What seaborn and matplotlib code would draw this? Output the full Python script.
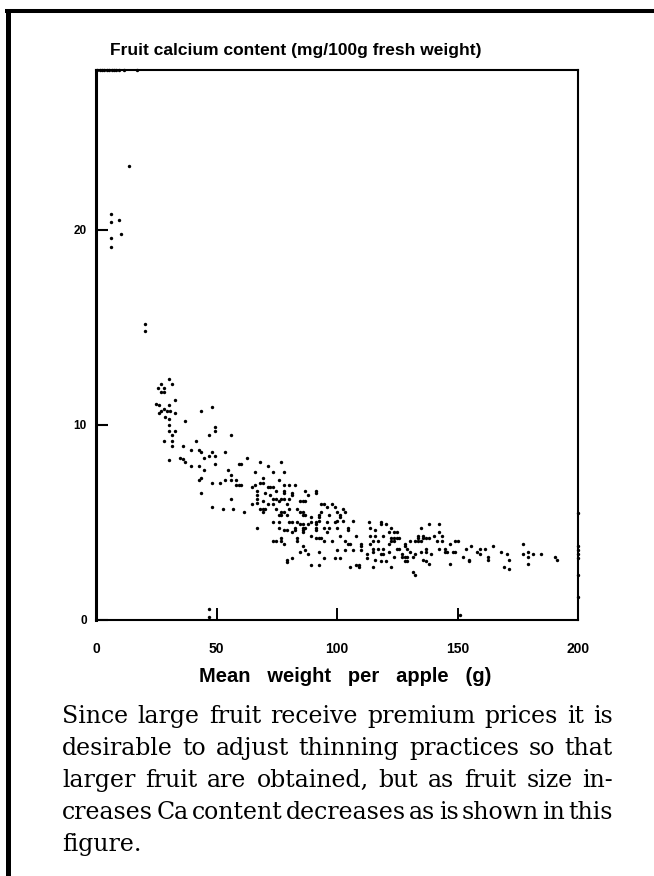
import numpy as np
import pandas as pd
import matplotlib
matplotlib.use("Agg")
import matplotlib.pyplot as plt
from matplotlib.lines import Line2D
import seaborn as sns


# =============================================================================
# DATOS
# =============================================================================
# puntos recortados en el borde superior del eje
top_weight = [0.5, 1.5, 2.5, 3.5, 4.5, 5.5, 6.5, 7.5, 8.5, 9.5, 11.6, 17.1]
top_calcium = [28.2] * len(top_weight)

# frutos pequenos
small_weight = [13.7, 6.1, 9.4, 6.1, 10.4, 6.1, 6.1, 20.5, 20.5]
small_calcium = [23.3, 20.8, 20.5, 20.4, 19.8, 19.6, 19.1, 15.2, 14.8]

# nube principal, 25-62 g
cluster_a_weight = [
    30.4, 26.8, 25.7, 28.2, 31.7, 27.1, 28.2, 32.6, 24.9, 26.3, 30.4, 28.2,
    29.3, 30.7, 26.0, 27.1, 28.5, 32.6, 30.4, 30.4, 37.1, 43.7, 48.1, 49.5,
    49.5, 30.4, 32.6, 31.5, 28.2, 31.5, 41.5, 47.0, 55.9, 31.5, 36.0, 39.3,
    42.6, 43.7, 47.0, 48.1, 49.2, 53.7, 44.8, 30.4, 34.9, 36.0, 62.5,
    37.1, 39.3, 42.6, 44.8, 49.2, 54.8, 59.2, 60.3, 55.9, 43.7, 42.6, 48.1,
    51.5, 53.7, 55.9, 58.1, 58.1, 59.2, 60.3, 43.7, 55.9, 48.1, 52.6, 57.0,
    61.4,
]
cluster_a_calcium = [
    12.35, 12.1, 11.9, 11.9, 12.1, 11.7, 11.7, 11.3, 11.1, 11.0, 11.0, 10.8,
    10.7, 10.7, 10.6, 10.7, 10.4, 10.6, 10.3, 10.0, 10.2, 10.7, 10.9, 9.9,
    9.7, 9.7, 9.7, 9.5, 9.2, 9.2, 9.2, 9.5, 9.5, 8.9, 8.9, 8.7,
    8.7, 8.6, 8.4, 8.6, 8.4, 8.6, 8.3, 8.2, 8.3, 8.25, 8.3,
    8.1, 7.9, 7.9, 7.7, 8.0, 7.7, 8.0, 8.0, 7.45, 7.3, 7.2, 7.0,
    7.0, 7.2, 7.2, 7.2, 6.9, 6.9, 6.9, 6.5, 6.2, 5.8, 5.7, 5.7,
    5.55,
]

# nube principal, 62-114 g
cluster_b_weight = [
    68.0, 76.9, 71.4, 65.9, 73.6, 78.0, 69.1, 75.8, 68.0, 69.1, 78.0, 80.2,
    82.4, 65.9, 64.7, 71.4, 72.4, 73.6, 66.9, 66.9, 66.9, 66.9, 70.2, 74.7,
    78.0, 78.0, 81.3, 81.3, 86.9, 91.3, 91.3, 88.0, 72.4, 73.6, 74.7, 76.9,
    78.0, 80.2, 69.1, 75.8, 84.6, 85.8, 86.9, 64.7, 71.4, 73.6, 79.1, 93.5,
    94.6, 97.9, 68.0, 69.1, 70.2, 74.7, 80.2, 83.5, 95.7, 99.0, 102.3, 69.1,
    76.9, 78.0, 84.6, 85.8, 93.5, 100.1, 103.4, 75.8, 76.9, 79.1, 85.8, 86.9,
    89.1, 92.4, 92.4, 92.4, 96.8, 101.2, 101.2, 102.3, 100.1, 106.8, 73.6, 75.8,
    80.2, 81.3, 83.5, 84.6, 85.8, 89.1, 91.3, 91.3, 91.3, 91.3, 95.7, 99.0,
    66.9, 75.8, 78.0, 79.1, 82.4, 82.4, 85.8, 86.9, 88.0, 94.6, 96.8, 100.1,
    104.6, 104.6, 81.3, 85.8, 85.8, 89.1, 95.7, 101.2, 107.9, 73.6, 74.7, 76.9,
    76.9, 83.5, 83.5, 91.3, 92.4, 93.5, 94.6, 97.9, 103.4, 104.6, 105.6, 78.0,
    85.8, 86.9, 100.1, 103.4, 106.8, 110.1, 110.1, 110.1, 84.6, 88.0, 92.4, 81.3,
    79.1, 79.1, 94.6, 99.0, 101.2, 89.1, 92.4, 105.6, 107.9, 109.0, 109.0, 112.3,
    112.3, 113.4,
]
cluster_b_calcium = [
    8.1, 8.1, 7.9, 7.6, 7.6, 7.6, 7.3, 7.2, 7.0, 7.0, 6.9, 6.9,
    6.9, 6.9, 6.8, 6.8, 6.8, 6.8, 6.6, 6.4, 6.2, 6.0, 6.5, 6.6,
    6.6, 6.5, 6.5, 6.4, 6.6, 6.6, 6.5, 6.4, 6.4, 6.2, 6.2, 6.2,
    6.2, 6.2, 6.1, 6.1, 6.1, 6.1, 6.1, 5.95, 5.95, 5.95, 5.95, 5.95,
    5.95, 5.95, 5.7, 5.7, 5.7, 5.7, 5.7, 5.7, 5.8, 5.8, 5.7, 5.55,
    5.55, 5.55, 5.55, 5.55, 5.55, 5.55, 5.55, 5.4, 5.4, 5.4, 5.4, 5.4,
    5.3, 5.4, 5.3, 5.1, 5.4, 5.4, 5.3, 5.1, 5.1, 5.1, 5.0, 5.0,
    5.0, 5.0, 5.0, 4.9, 4.9, 5.0, 5.0, 4.9, 4.7, 4.6, 5.0, 5.0,
    4.7, 4.7, 4.6, 4.6, 4.7, 4.6, 4.7, 4.7, 4.9, 4.7, 4.7, 4.7,
    4.7, 4.6, 4.5, 4.6, 4.5, 4.3, 4.5, 4.3, 4.3, 4.05, 4.05, 4.2,
    4.05, 4.2, 4.05, 4.2, 4.2, 4.2, 4.05, 4.05, 4.05, 3.9, 3.9, 3.9,
    3.8, 3.6, 3.6, 3.6, 3.6, 3.9, 3.8, 3.6, 3.5, 3.4, 3.5, 3.2,
    3.1, 2.95, 3.2, 3.2, 3.2, 2.8, 2.8, 2.7, 2.8, 2.8, 2.7, 3.4,
    3.2, 5.0,
]

# nube principal, 113-192 g
cluster_c_weight = [
    118.1, 118.1, 120.3, 122.5, 113.7, 115.9, 121.4, 123.6, 124.7, 113.7, 115.9, 119.2,
    122.5, 123.6, 124.7, 125.8, 122.5, 123.6, 134.7, 138.0, 142.4, 142.4, 143.6, 133.6,
    133.6, 132.5, 133.6, 134.7, 135.8, 135.8, 136.9, 138.0, 130.3, 140.2, 141.3, 143.6,
    149.1, 150.2, 146.9, 114.8, 117.0, 113.7, 121.4, 128.1, 128.1, 124.7, 125.8, 129.2,
    130.3, 114.8, 114.8, 117.0, 119.2, 121.4, 134.7, 136.9, 136.9, 139.1, 142.4, 144.7,
    144.7, 145.8, 148.0, 149.1, 153.5, 155.7, 157.9, 118.1, 119.2, 123.6, 127.0, 127.0,
    128.1, 129.2, 131.4, 132.5, 152.4, 154.6, 154.6, 115.9, 118.1, 120.3, 128.1, 129.2,
    135.8, 136.9, 138.0, 146.9, 114.8, 122.5, 131.4, 132.5,
    159.3, 161.5, 159.3, 162.7, 162.7, 164.9, 168.2, 170.4, 171.5, 169.3, 171.5, 177.0,
    177.0, 179.3, 181.4, 179.3, 179.3, 184.8, 190.3, 191.4,
]
cluster_c_calcium = [
    5.0, 4.9, 4.9, 4.7, 4.7, 4.6, 4.5, 4.5, 4.5, 4.3, 4.3, 4.3,
    4.2, 4.2, 4.2, 4.2, 4.05, 4.05, 4.7, 4.9, 4.9, 4.5, 4.3, 4.3,
    4.2, 4.07, 4.07, 4.07, 4.3, 4.2, 4.2, 4.2, 4.07, 4.3, 4.07, 4.07,
    4.07, 4.07, 3.9, 4.07, 4.07, 3.9, 3.9, 3.9, 3.8, 3.66, 3.66, 3.66,
    3.5, 3.66, 3.5, 3.66, 3.66, 3.5, 3.5, 3.66, 3.5, 3.4, 3.66, 3.66,
    3.5, 3.5, 3.5, 3.5, 3.66, 3.8, 3.5, 3.4, 3.4, 3.25, 3.4, 3.25,
    3.25, 3.25, 3.25, 3.4, 3.25, 3.1, 3.0, 3.1, 3.0, 3.0, 3.0, 3.0,
    3.1, 3.0, 2.85, 2.85, 2.7, 2.7, 2.45, 2.3,
    3.66, 3.66, 3.4, 3.25, 3.1, 3.8, 3.5, 3.4, 3.1, 2.7, 2.6, 3.9,
    3.4, 3.5, 3.4, 3.25, 2.85, 3.4, 3.25, 3.1,
]

# puntos sueltos: cerca de cero y sobre el borde derecho
outlier_weight = [47, 47, 151, 200, 200, 200, 200, 200, 200, 200]
outlier_calcium = [0.55, 0.15, 0.25, 5.5, 3.8, 3.6, 3.4, 3.2, 2.3, 1.2]

x_ticks = [0, 50, 100, 150, 200]
y_ticks = [0, 10, 20]

title = "Fruit calcium content (mg/100g fresh weight)"
x_label = "Mean   weight   per   apple   (g)"
caption = [
    "Since large fruit receive premium prices it is",
    "desirable to adjust thinning practices so that",
    "larger fruit are obtained, but as fruit size in-",
    "creases Ca content decreases as is shown in this",
    "figure.",
]


# =============================================================================
# FIGURA
# =============================================================================
W, H = 654, 876

sns.set_style("ticks")
plt.rcParams["font.family"] = ["Liberation Sans", "DejaVu Sans"]
plt.rcParams["text.color"] = "black"
plt.rcParams["xtick.color"] = "black"
plt.rcParams["ytick.color"] = "black"
plt.rcParams["xtick.direction"] = "in"
plt.rcParams["ytick.direction"] = "in"

df = pd.DataFrame(
    {
        "peso": top_weight + small_weight + cluster_a_weight + cluster_b_weight
        + cluster_c_weight + outlier_weight,
        "calcio": top_calcium + small_calcium + cluster_a_calcium + cluster_b_calcium
        + cluster_c_calcium + outlier_calcium,
    }
)

fig = plt.figure(figsize=(W / 100, H / 100), dpi=100)
ax = fig.add_axes([96 / W, 256 / H, 482 / W, 550 / H])

sns.scatterplot(
    data=df, x="peso", y="calcio", ax=ax,
    color="black", s=6, marker="o", linewidth=0, legend=False, clip_on=False,
)

ax.set_xlim(0, 200)
ax.set_ylim(0, 28.2)
ax.set_xticks(x_ticks)
ax.set_yticks(y_ticks)
ax.set_xticklabels([str(t) for t in x_ticks])
ax.set_yticklabels([str(t) for t in y_ticks])
ax.set_xlabel("")
ax.set_ylabel("")

for name, spine in ax.spines.items():
    spine.set_visible(True)
    spine.set_color("black")
    spine.set_linewidth(1.5)
ax.spines["left"].set_linewidth(2.2)

for lab in ax.get_xticklabels() + ax.get_yticklabels():
    lab.set_fontweight("bold")

# marcas hacia dentro, puestas al final para que nada las pise
ax.tick_params(axis="x", which="major", direction="in", length=8.6, width=1.4,
               bottom=True, top=False, pad=15.5, labelsize=10, color="black")
ax.tick_params(axis="y", which="major", direction="in", length=8.6, width=1.5,
               left=True, right=False, pad=6.5, labelsize=8.5, color="black")

# marco exterior de la pagina (izquierda y arriba)
fig.add_artist(Line2D([7.5 / W, 7.5 / W], [0, 1 - 9 / H], transform=fig.transFigure,
                      color="black", linewidth=3.6, solid_capstyle="butt"))
fig.add_artist(Line2D([5 / W, 1], [1 - 11 / H, 1 - 11 / H], transform=fig.transFigure,
                      color="black", linewidth=2.9, solid_capstyle="butt"))

fig.text(110 / W, 1 - 50 / H, title, ha="left", va="center",
         fontsize=12.5, fontweight="bold", color="black")
fig.text(345 / W, 1 - 677 / H, x_label, ha="center", va="center",
         fontsize=14.5, fontweight="bold", color="black")

# texto justificado debajo del grafico
renderer = fig.canvas.get_renderer()
x0, x1 = 62, 613
base0, step = 723, 32
for i, line in enumerate(caption):
    words = line.split()
    y = 1 - (base0 + i * step) / H
    texts = [fig.text(0, y, w, ha="left", va="baseline", fontsize=17,
                      family=["DejaVu Serif"], color="black") for w in words]
    widths = [t.get_window_extent(renderer).width for t in texts]
    if i == len(caption) - 1 or len(words) == 1:
        gap = 6.5
    else:
        gap = (x1 - x0 - sum(widths)) / (len(words) - 1)
    pos = x0
    for t, w in zip(texts, widths):
        t.set_x(pos / W)
        pos += w + gap

fig.savefig("out.png", dpi=100)
